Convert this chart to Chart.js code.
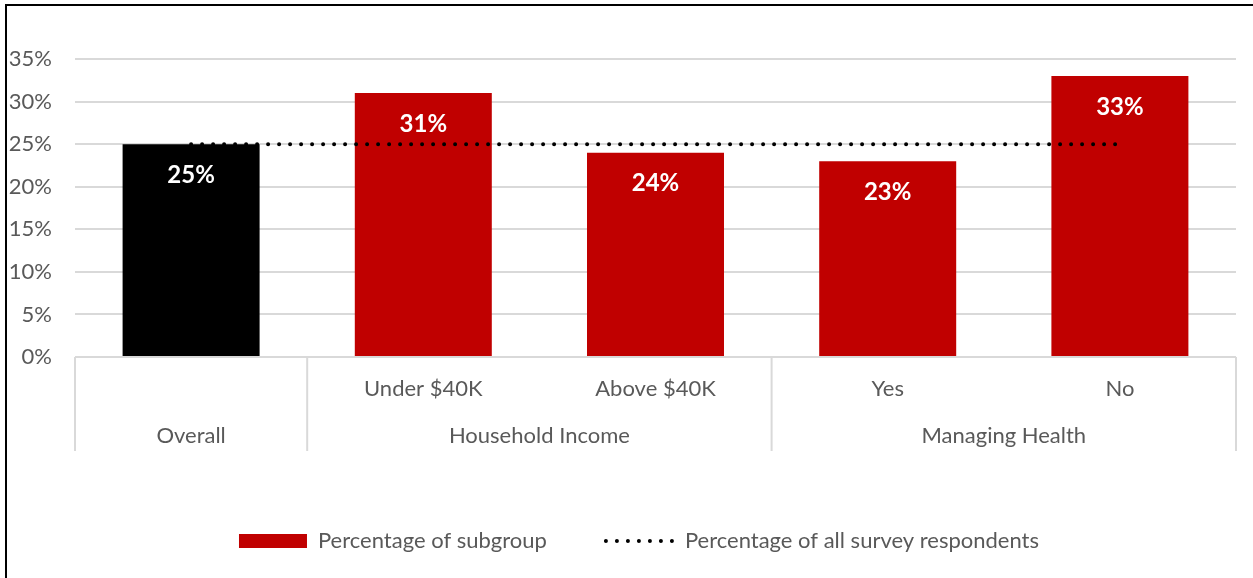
<!DOCTYPE html>
<html>
<head>
<meta charset="utf-8">
<title>Survey subgroups</title>
<script src="https://cdn.jsdelivr.net/npm/chart.js@4.4.1/dist/chart.umd.min.js"></script>
<style>
  body { margin: 0; background: #fff; }
  canvas { display: block; }
</style>
</head>
<body>
<canvas id="survey-chart" width="1253" height="578"></canvas>
<script>
const categories = ["Overall", "Under $40K", "Above $40K", "Yes", "No"];
const subLabels = ["", "Under $40K", "Above $40K", "Yes", "No"];
const groupNames = ["Overall", "Household Income", "Managing Health"];
const groupSizes = [1, 2, 2];
const subgroupPct = [25, 31, 24, 23, 33];
const allRespondentsPct = [25, 25, 25, 25, 25];

const FONT = "Lato, 'Open Sans', sans-serif";
const GREY = "#595959";
const RED = "#C00000";
const GRID = "#D9D9D9";

// black frame on the top and left edges
const framePlugin = {
  id: "frame",
  beforeDraw(chart) {
    const ctx = chart.ctx;
    ctx.save();
    ctx.fillStyle = "#000";
    ctx.fillRect(5, 4, chart.width, 2);
    ctx.fillRect(5, 4, 2, chart.height);
    ctx.restore();
  },
  // nudge the legend a little to the right
  afterLayout(chart) {
    chart.legend.left += 21;
    chart.legend.right += 21;
  },
};

// two-level category axis: sub labels on the first row, groups below
const groupAxis = {
  id: "groupAxis",
  afterDraw(chart) {
    const { ctx, chartArea, scales } = chart;
    const x = scales.x;
    const half = (x.getPixelForValue(1) - x.getPixelForValue(0)) / 2;
    const top = chartArea.bottom;

    const edges = [x.getPixelForValue(0) - half];
    let idx = 0;
    groupSizes.forEach((n) => {
      idx += n;
      edges.push(x.getPixelForValue(idx - 1) + half);
    });

    ctx.save();
    ctx.strokeStyle = GRID;
    ctx.lineWidth = 2;
    edges.forEach((px) => {
      ctx.beginPath();
      ctx.moveTo(px, top);
      ctx.lineTo(px, top + 94);
      ctx.stroke();
    });

    ctx.fillStyle = GREY;
    ctx.font = `22px ${FONT}`;
    ctx.textAlign = "center";
    ctx.textBaseline = "middle";
    subLabels.forEach((t, i) => ctx.fillText(t, x.getPixelForValue(i), top + 32));
    groupNames.forEach((t, g) => ctx.fillText(t, (edges[g] + edges[g + 1]) / 2, top + 79));
    ctx.restore();
  },
};

// white value labels inside the top of each bar
const barLabels = {
  id: "barLabels",
  afterDatasetsDraw(chart) {
    const ctx = chart.ctx;
    const meta = chart.getDatasetMeta(0);
    ctx.save();
    ctx.fillStyle = "#fff";
    ctx.font = `bold 24px ${FONT}`;
    ctx.textAlign = "center";
    ctx.textBaseline = "middle";
    meta.data.forEach((bar, i) => {
      ctx.fillText(subgroupPct[i] + "%", bar.x, bar.y + 31);
    });
    ctx.restore();
  },
};

const ctx = document.getElementById("survey-chart").getContext("2d");
const chart = new Chart(ctx, {
  type: "bar",
  data: {
    labels: categories,
    datasets: [
      {
        label: "Percentage of subgroup",
        data: subgroupPct,
        backgroundColor: (c) => (c.dataIndex === 0 ? "#000000" : RED),
        borderWidth: 0,
        barPercentage: 0.59,
        categoryPercentage: 1,
        pointStyle: "rect",
        order: 1,
      },
      {
        type: "line",
        label: "Percentage of all survey respondents",
        data: allRespondentsPct,
        borderColor: "#000",
        borderWidth: 4,
        borderDash: [0, 11],
        borderCapStyle: "round",
        pointRadius: 0,
        fill: false,
        order: 0,
      },
    ],
  },
  options: {
    responsive: false,
    animation: false,
    events: [],
    layout: { padding: { top: 59, left: 0, right: 17, bottom: 16 } },
    scales: {
      x: {
        grid: { display: false },
        border: { display: false },
        ticks: { display: false },
        afterFit: (scale) => { scale.height = 114; },
      },
      y: {
        min: 0,
        max: 35,
        ticks: {
          stepSize: 5,
          padding: 23,
          color: GREY,
          font: { family: FONT, size: 22 },
          callback: (v) => v + "%",
        },
        grid: { color: GRID, lineWidth: 2, drawTicks: false },
        border: { display: false },
        afterFit: (scale) => { scale.width = 75; },
      },
    },
    plugins: {
      tooltip: { enabled: false },
      legend: {
        position: "bottom",
        labels: {
          usePointStyle: true,
          pointStyleWidth: 68,
          boxHeight: 14,
          padding: 59,
          color: GREY,
          font: { family: FONT, size: 22 },
          sort: (a, b) => a.datasetIndex - b.datasetIndex,
          generateLabels: (chart) => {
            const items = Chart.defaults.plugins.legend.labels.generateLabels(chart);
            items.forEach((item) => {
              if (item.datasetIndex === 0) {
                item.fillStyle = RED;
                item.lineWidth = 0;
                item.pointStyle = "rect";
              } else {
                item.pointStyle = "line";
                item.strokeStyle = "#000";
                item.lineWidth = 4;
                item.lineDash = [0, 11];
                item.lineCap = "round";
              }
            });
            return items;
          },
        },
      },
    },
  },
  plugins: [framePlugin, groupAxis, barLabels],
});
</script>
</body>
</html>
